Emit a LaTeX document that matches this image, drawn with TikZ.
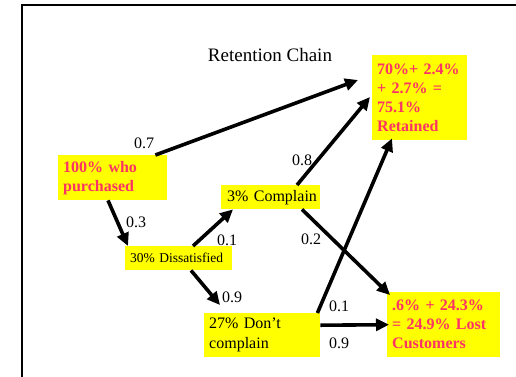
\documentclass[tikz,border=0pt]{standalone}
\usepackage{fontspec}
\setmainfont{Liberation Serif}
\usetikzlibrary{arrows.meta}
\definecolor{boxyellow}{RGB}{255,255,0}
\definecolor{pinktext}{RGB}{255,51,102}
\begin{document}
\begin{tikzpicture}[x=1pt,y=-1pt,
  ybox/.style={fill=boxyellow, anchor=north west, inner xsep=5pt, inner ysep=0pt, align=left},
  hotbox/.style={ybox, text=pinktext, font=\fontsize{16}{19}\selectfont\bfseries},
  normbox/.style={ybox, font=\fontsize{16}{20}\selectfont},
  prob/.style={font=\fontsize{16}{19}\selectfont, inner sep=0pt},
  arr/.style={line width=3.6pt, -{Triangle[length=13pt,width=12pt]}}]
\useasboundingbox (0,0) rectangle (516,376);
\clip (0,0) rectangle (516,376);
\draw[line width=2.2pt] (22,390) -- (22,5) -- (530,5);

\node[font=\fontsize{19}{22}\selectfont, inner sep=0pt] (title) at (270,55) {Retention Chain};

\node[hotbox, text width=85pt, minimum height=85pt] (ret) at (372,55) {70\%+ 2.4\%\\+ 2.7\% =\\75.1\%\\Retained};
\node[hotbox, text width=99pt, minimum height=45pt] (buy) at (58,155) {100\% who\\purchased};
\node[normbox, inner xsep=0pt, text width=99pt, minimum height=24pt] (comp) at (221,185) {\hspace*{6pt}\mbox{3\% Complain}};
\node[ybox, font=\fontsize{13.5}{16}\selectfont, text width=97pt, minimum height=24pt] (dis) at (125,246) {\mbox{30\% Dissatisfied}};
\node[normbox, text width=106pt, minimum height=44pt] (dont) at (204,313) {27\% Don’t\\complain};
\node[hotbox, text width=103pt, minimum height=65pt] (lost) at (387,292) {.6\% + 24.3\%\\= 24.9\% Lost\\Customers};

\draw[arr] ([xshift=-12pt]buy.north east) -- ([shift={(-14pt,-25pt)}]ret.north west);
\draw[arr] ([xshift=50pt]buy.south west) -- ([xshift=3pt]dis.north west);
\draw[arr] ([xshift=68pt]dis.north west) -- ([xshift=12pt]comp.south west);
\draw[arr] ([xshift=66pt]dis.south west) -- ([shift={(16pt,8pt)}]dont.north west);
\draw[arr] ([xshift=76pt]comp.north west) -- ([shift={(-2pt,-42pt)}]ret.north west);
\draw[arr] ([xshift=81pt]comp.south west) -- ([shift={(3pt,-3pt)}]lost.north west);
\draw[arr] ([xshift=-3pt]dont.north east) -- ([shift={(20pt,2pt)}]ret.south west);
\draw[arr] ([yshift=10pt]dont.east) -- ([shift={(2pt,0pt)}]lost.west);

\node[prob] (p1) at (144,143) {0.7};
\node[prob] (p2) at (136,222) {0.3};
\node[prob] (p3) at (227,240) {0.1};
\node[prob] (p4) at (232,297) {0.9};
\node[prob] (p5) at (302,160) {0.8};
\node[prob] (p6) at (311,239) {0.2};
\node[prob] (p7) at (339,306) {0.1};
\node[prob] (p8) at (339,343) {0.9};
\end{tikzpicture}
\end{document}
